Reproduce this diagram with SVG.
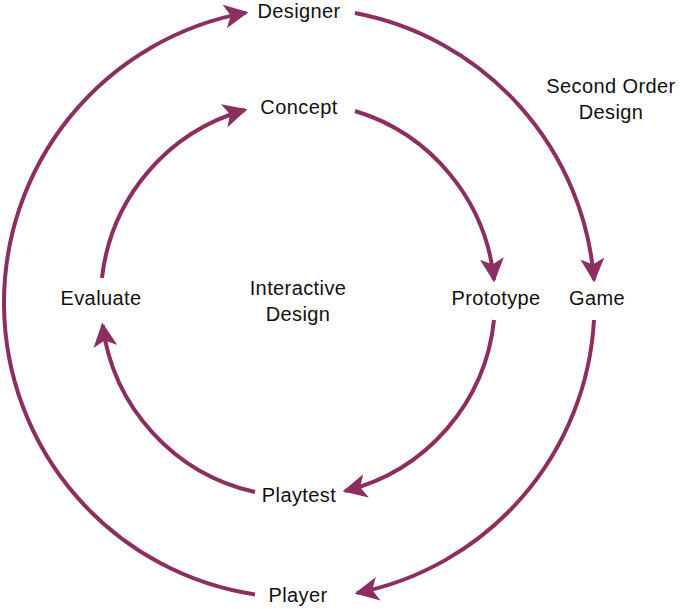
<svg xmlns="http://www.w3.org/2000/svg" width="680" height="609" viewBox="0 0 680 609">
<style>
text{font-family:"Liberation Sans",Arial,sans-serif;font-size:20px;fill:#111;text-anchor:middle;letter-spacing:0.4px}
.c{fill:none;stroke:#8c2f60;stroke-width:4}
</style>
<defs>
<marker id="a" viewBox="0 0 10 10" refX="9" refY="5" markerWidth="6" markerHeight="6" orient="auto-start-reverse" markerUnits="strokeWidth">
<path d="M0,0 L10,5 L0,10 L2.5,5 Z" fill="#8c2f60"/>
</marker>
</defs>
<rect width="680" height="609" fill="#fff"/>
<g id="connectors">
<path class="c" marker-end="url(#a)" d="M255,594.5 A295,295 0 0 1 246,12.6"/>
<path class="c" marker-end="url(#a)" d="M355,13 A295,295 0 0 1 594,280"/>
<path class="c" marker-end="url(#a)" d="M594,320 A295,295 0 0 1 357,593"/>
<path class="c" marker-end="url(#a)" d="M102,278 A197,197 0 0 1 245,110"/>
<path class="c" marker-end="url(#a)" d="M355,111 A197,197 0 0 1 494,280"/>
<path class="c" marker-end="url(#a)" d="M494,320 A197,197 0 0 1 345,491"/>
<path class="c" marker-end="url(#a)" d="M255,492 A197,197 0 0 1 102.6,325"/>
</g>
<g id="designer"><text x="299" y="18">Designer</text></g>
<g id="second"><text x="611" y="93">Second Order</text><text x="611" y="119">Design</text></g>
<g id="concept"><text x="299" y="114">Concept</text></g>
<g id="evaluate"><text x="101" y="305">Evaluate</text></g>
<g id="interactive"><text x="298" y="295">Interactive</text><text x="298" y="321">Design</text></g>
<g id="prototype"><text x="496" y="305">Prototype</text></g>
<g id="game"><text x="597" y="305">Game</text></g>
<g id="playtest"><text x="299" y="502">Playtest</text></g>
<g id="player"><text x="298" y="602">Player</text></g>
</svg>
